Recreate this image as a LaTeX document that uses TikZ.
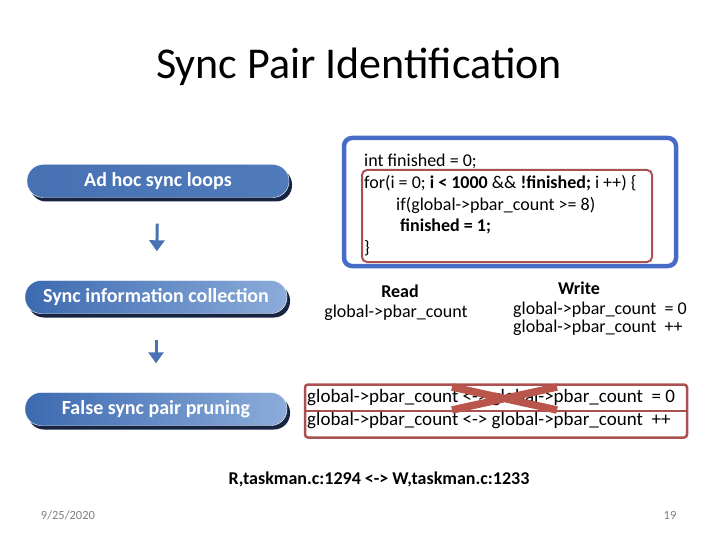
\documentclass[tikz,border=0pt]{standalone}
\usepackage{fontspec}
\setmainfont{Carlito}
\usetikzlibrary{arrows.meta,positioning,shadows}
\definecolor{pilldark}{RGB}{60,106,176}
\definecolor{pilllight}{RGB}{140,172,218}
\definecolor{pillshadow}{RGB}{22,36,66}
\definecolor{loopblue}{RGB}{70,108,200}
\definecolor{brickred}{RGB}{170,80,80}
\definecolor{crossred}{RGB}{185,85,75}
\definecolor{flowblue}{RGB}{72,114,180}
\tikzset{
  pill/.style={
    rounded corners=16pt,
    draw=white,
    left color=pilldark,
    right color=pilllight,
    minimum width=262pt,
    minimum height=33pt,
    text=white,
    font=\fontsize{20}{24}\selectfont\bfseries,
    drop shadow={shadow xshift=3pt,shadow yshift=-4pt,fill=pillshadow,opacity=1}
  },
  code/.style={
    anchor=west,
    inner sep=0pt,
    font=\fontsize{18}{21}\selectfont
  },
  pair/.style={
    anchor=west,
    inner sep=0pt,
    font=\fontsize{19}{22}\selectfont
  },
  flow/.style={
    -{Triangle[width=15pt,length=11pt]},
    line width=3pt,
    flowblue
  }
}

\begin{document}
\begin{tikzpicture}[x=1pt,y=-1pt]
\useasboundingbox (0,0) rectangle (720,540);
% title
\node[font=\fontsize{44}{52}\selectfont] (title) at (359,67) {Sync Pair Identification};

% left column
\node[pill,left color=pilldark!95,right color=pilldark!75!pilllight] (adhoc) at (158,181) {Ad hoc sync loops};
\node[pill] (collect) at (156,297) {Sync information collection};
\node[pill] (prune) at (156,409) {False sync pair pruning};
\draw[flow,shorten <=26pt,shorten >=29pt] (adhoc) -- (collect);
\draw[flow,shorten <=26pt,shorten >=29pt] (collect) -- (prune);

% the loop
\node[draw=loopblue,line width=4.5pt,rounded corners=8pt,minimum width=332pt,minimum height=128pt] (loopbox) at (510,202) {};
\node[draw=brickred,line width=2pt,rounded corners=5pt,minimum width=290pt,minimum height=92pt] (forbox) at (507,216) {};
\node[code] (l1) at (364,161) {int finished = 0;};
\node[code] (l2) at (364,183) {for(i = 0; \textbf{i < 1000} \&\& \textbf{!finished;} i ++) \{};
\node[code] (l3) at (396,205) {if(global->pbar\_count >= 8)};
\node[code,font=\fontsize{18}{21}\selectfont\bfseries] (l4) at (400,226) {finished = 1;};
\node[code] (l5) at (364,248) {\}};

% read / write
\node[font=\fontsize{18}{21}\selectfont\bfseries] (read) at (400,291) {Read};
\node[font=\fontsize{18}{21}\selectfont] (readvar) at (396,313) {global->pbar\_count};
\node[font=\fontsize{18}{21}\selectfont\bfseries] (write) at (579,288) {Write};
\node[code] (write1) at (513,310) {global->pbar\_count\ \ = 0};
\node[code] (write2) at (513,328) {global->pbar\_count\ \ ++};

% pairs
\node[draw=brickred,line width=2.5pt,rounded corners=3pt,minimum width=382pt,minimum height=53pt] (pairbox) at (496,411) {};
\draw[brickred,line width=2.5pt] (pairbox.west) -- (pairbox.east);
\node[pair] (p1) at (307,398) {global->pbar\_count <-> global->pbar\_count\ \ = 0};
\node[pair] (p2) at (307,421) {global->pbar\_count <-> global->pbar\_count\ \ ++};
\coordinate (xa) at (452,387);
\coordinate (xb) at (557,410);
\draw[crossred,line width=7.5pt] (xa) -- (xb) (xa |- xb) -- (xb |- xa);

\node[font=\fontsize{18}{21}\selectfont\bfseries] (site) at (379,479) {R,taskman.c:1294 <-> W,taskman.c:1233};

% footer
\node[font=\fontsize{12.5}{15}\selectfont,text=black!50] (date) at (68,515) {9/25/2020};
\node[font=\fontsize{12.5}{15}\selectfont,text=black!50] (page) at (670,515) {19};
\end{tikzpicture}
\end{document}
